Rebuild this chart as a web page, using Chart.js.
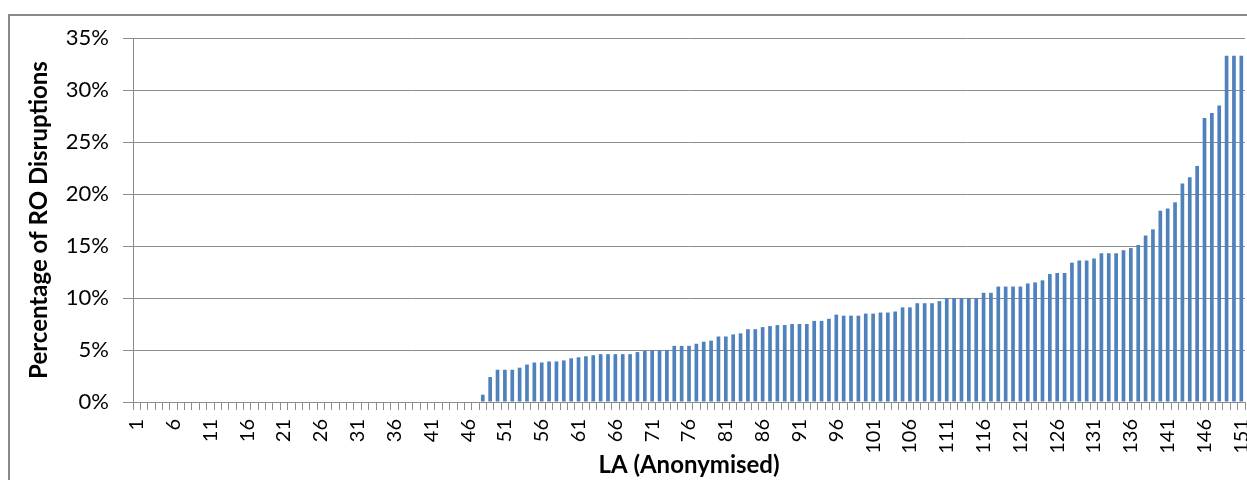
<!DOCTYPE html>
<html>
<head>
<meta charset="utf-8">
<script src="https://cdn.jsdelivr.net/npm/chart.js@4/dist/chart.umd.min.js"></script>
<style>
  html, body { margin: 0; padding: 0; background: #fff; overflow: hidden; }
  #frame { position: absolute; left: 8px; top: 14px; width: 1400px; height: 600px; border: 2px solid #8a8a8a; box-sizing: border-box; }
  #wrap { position: absolute; left: 0; top: 0; width: 1247px; height: 480px; }
</style>
</head>
<body>
<div id="frame"></div>
<div id="wrap"><canvas id="bar_chart" width="1247" height="480"></canvas></div>
<script>
// categories: anonymised LAs numbered 1..151
var categories = [];
for (var i = 1; i <= 151; i++) { categories.push(String(i)); }

// labels shown on the x axis (every 5th LA)
var tickLabels = ['1','6','11','16','21','26','31','36','41','46','51','56','61','66','71','76',
                  '81','86','91','96','101','106','111','116','121','126','131','136','141','146','151'];

// % of RO disruptions per LA
var disruptionPct = [
    0, 0, 0, 0, 0, 0, 0, 0, 0, 0,
    0, 0, 0, 0, 0, 0, 0, 0, 0, 0,
    0, 0, 0, 0, 0, 0, 0, 0, 0, 0,
    0, 0, 0, 0, 0, 0, 0, 0, 0, 0,
    0, 0, 0, 0, 0, 0, 0, 0.7, 2.4, 3.1,
    3.1, 3.1, 3.3, 3.6, 3.8, 3.8, 3.9, 3.9, 4.0, 4.2,
    4.3, 4.4, 4.5, 4.6, 4.6, 4.6, 4.6, 4.6, 4.8, 4.9,
    5.0, 5.0, 5.0, 5.4, 5.4, 5.4, 5.6, 5.8, 5.9, 6.3,
    6.3, 6.5, 6.6, 7.0, 7.0, 7.2, 7.3, 7.4, 7.4, 7.5,
    7.5, 7.5, 7.8, 7.8, 8.0, 8.4, 8.3, 8.3, 8.3, 8.5,
    8.5, 8.6, 8.6, 8.7, 9.1, 9.1, 9.5, 9.5, 9.5, 9.7,
    10.0, 10.0, 10.0, 10.0, 10.0, 10.5, 10.5, 11.1, 11.1, 11.1,
    11.1, 11.4, 11.5, 11.7, 12.3, 12.4, 12.4, 13.4, 13.6, 13.6,
    13.8, 14.3, 14.3, 14.3, 14.6, 14.8, 15.1, 16.0, 16.6, 18.4,
    18.6, 19.2, 21.0, 21.6, 22.7, 27.3, 27.8, 28.5, 33.3, 33.3,
    33.3
];

var yTicks = [0, 5, 10, 15, 20, 25, 30, 35];

var gridColor = '#8c8c8c';
var fontFamily = 'Lato, "Liberation Sans", sans-serif';

new Chart(document.getElementById("bar_chart").getContext("2d"), {
    type: 'bar',
    data: {
        labels: categories,
        datasets: [{
            label: 'Percentage of RO Disruptions',
            data: disruptionPct,
            backgroundColor: '#4f81bd',
            borderWidth: 0,
            barPercentage: 0.5,
            categoryPercentage: 1.0
        }]
    },
    options: {
        responsive: false,
        animation: false,
        layout: { padding: { left: 25, right: 2, top: 38, bottom: 0 } },
        plugins: {
            legend: { display: false },
            tooltip: { enabled: false }
        },
        scales: {
            x: {
                offset: true,
                grid: { drawOnChartArea: false, drawTicks: true, tickLength: 8, color: gridColor, offset: true },
                border: { color: gridColor },
                ticks: {
                    autoSkip: false,
                    minRotation: 90,
                    maxRotation: 90,
                    padding: 9,
                    color: '#000',
                    font: { family: fontFamily, size: 20 },
                    callback: function (value) {
                        var lab = this.getLabelForValue(value);
                        return tickLabels.indexOf(lab) >= 0 ? lab : '';
                    }
                },
                title: {
                    display: true,
                    text: 'LA (Anonymised)',
                    color: '#000',
                    font: { family: fontFamily, size: 24, weight: 'bold' },
                    padding: { top: 0, bottom: 0 }
                },
                afterFit: function (scale) {
                    scale.height = 78;
                    scale.paddingLeft = 0;
                    scale.paddingRight = 0;
                }
            },
            y: {
                min: 0,
                max: 35,
                afterBuildTicks: function (scale) {
                    scale.ticks = yTicks.map(function (v) { return { value: v }; });
                },
                grid: { color: gridColor, tickLength: 10 },
                border: { color: gridColor },
                ticks: {
                    padding: 14,
                    color: '#000',
                    font: { family: fontFamily, size: 22 },
                    callback: function (value) { return value + '%'; }
                },
                title: {
                    display: true,
                    text: 'Percentage of RO Disruptions',
                    color: '#000',
                    font: { family: fontFamily, size: 24, weight: 'bold' },
                    padding: { top: 0, bottom: 0 }
                },
                afterFit: function (scale) {
                    scale.width = 108;
                }
            }
        }
    }
});
</script>
</body>
</html>
